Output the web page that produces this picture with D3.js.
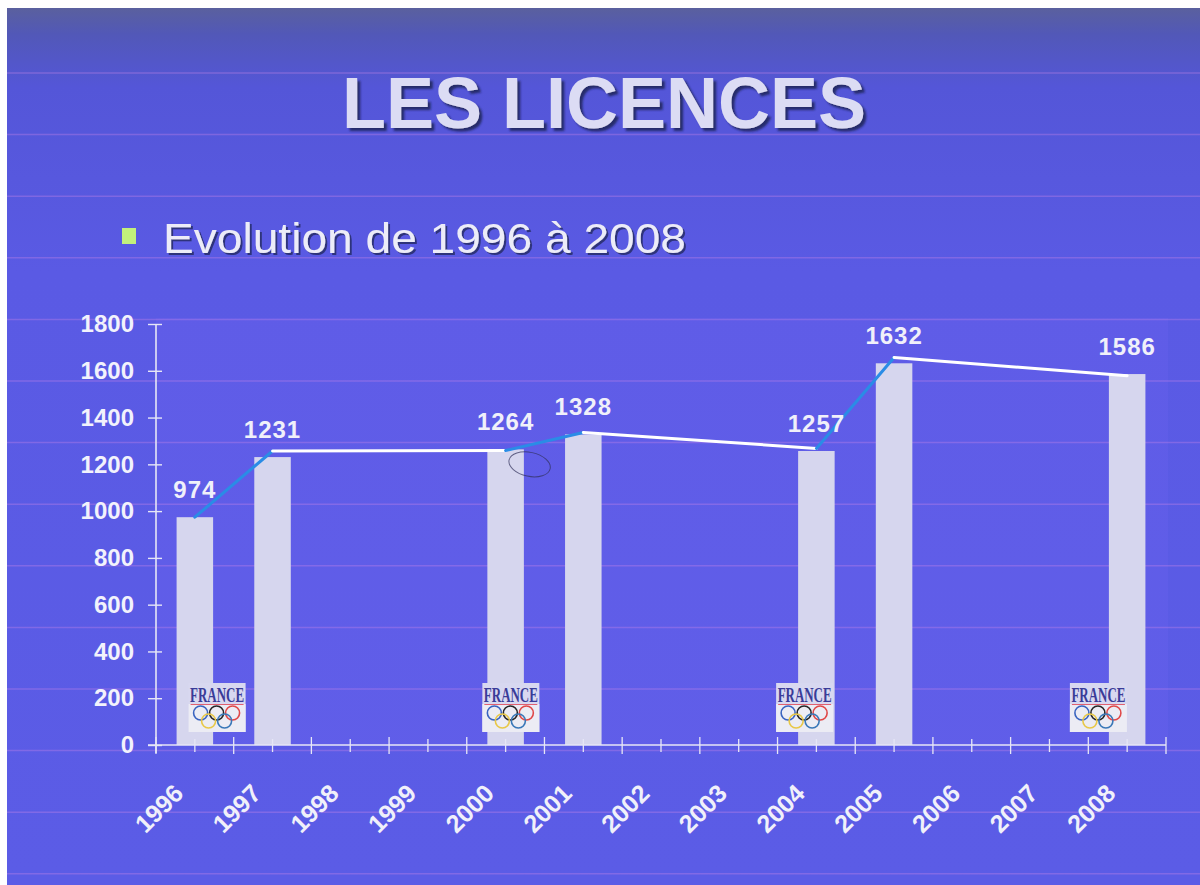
<!DOCTYPE html>
<html>
<head>
<meta charset="utf-8">
<script src="https://cdn.jsdelivr.net/npm/d3@7"></script>
<style>
  html, body { margin: 0; padding: 0; background: #ffffff; }
  svg { display: block; }
</style>
</head>
<body>
<svg id="chart" width="1200" height="885"></svg>
<script>
// ---------- DATA ----------
const years = ["1996","1997","1998","1999","2000","2001","2002","2003","2004","2005","2006","2007","2008"];
const barYears = ["1996","1997","2000","2001","2004","2005","2008"];
const barValues = [974, 1231, 1264, 1328, 1257, 1632, 1586];
const yTicks = [0, 200, 400, 600, 800, 1000, 1200, 1400, 1600, 1800];
// hand-drawn trend overlay
const trendYears = ["1996","1997","2000","2001","2004","2005","2008"];
const trendValues = [974, 1257, 1259, 1336, 1268, 1657, 1579];
const trendColors = ["#2a8ce6", "#ffffff", "#2a8ce6", "#ffffff", "#2a8ce6", "#ffffff"];
const logoYears = ["1996", "2000", "2004", "2008"];
const titleText = "LES LICENCES";
const subtitleText = "Evolution de 1996 à 2008";

// ---------- SETUP ----------
const svg = d3.select("#chart");
const W = 1200, H = 885;
const plot = { left: 156, right: 1166, top: 324, bottom: 745 };

const defs = svg.append("defs");
const g1 = defs.append("linearGradient").attr("id", "bgGrad")
  .attr("x1", 0).attr("y1", 0).attr("x2", 0).attr("y2", 1);
g1.append("stop").attr("offset", "0%").attr("stop-color", "#5a609e");
g1.append("stop").attr("offset", "3%").attr("stop-color", "#5258b8");
g1.append("stop").attr("offset", "9%").attr("stop-color", "#5456d8");
g1.append("stop").attr("offset", "30%").attr("stop-color", "#5a5ae4");
g1.append("stop").attr("offset", "100%").attr("stop-color", "#5b5ce6");

const sh = defs.append("filter").attr("id", "shadow")
  .attr("x", "-5%").attr("y", "-20%").attr("width", "110%").attr("height", "140%");
sh.append("feDropShadow").attr("dx", 3).attr("dy", 3).attr("stdDeviation", 0.8)
  .attr("flood-color", "#1a2050").attr("flood-opacity", 0.8);
const sh2 = defs.append("filter").attr("id", "shadow2")
  .attr("x", "-5%").attr("y", "-20%").attr("width", "110%").attr("height", "140%");
sh2.append("feDropShadow").attr("dx", 2).attr("dy", 2).attr("stdDeviation", 0.6)
  .attr("flood-color", "#1a2050").attr("flood-opacity", 0.7);

// background slide (white scan margins on top and left)
svg.append("rect").attr("x", 0).attr("y", 0).attr("width", W).attr("height", H).attr("fill", "#ffffff");
svg.append("rect").attr("x", 7).attr("y", 8).attr("width", W - 7).attr("height", H - 8).attr("fill", "url(#bgGrad)");

// plot area tint
svg.append("rect")
  .attr("x", plot.left).attr("y", 318)
  .attr("width", plot.right - plot.left + 2).attr("height", plot.bottom - 318)
  .attr("fill", "#6a62ee").attr("opacity", 0.35);

// faint pinkish horizontal stripes of the slide background
svg.append("g").selectAll("line")
  .data(d3.range(73, H, 61.6))
  .join("line")
  .attr("x1", 7).attr("x2", W)
  .attr("y1", d => d).attr("y2", d => d)
  .attr("stroke", "#c884e8").attr("stroke-width", 1.5).attr("opacity", 0.35);

// ---------- TITLE ----------
svg.append("text").attr("x", 604).attr("y", 128)
  .attr("text-anchor", "middle")
  .attr("font-family", "'Liberation Sans', Arial, sans-serif")
  .attr("font-weight", "bold").attr("font-size", 72)
  .attr("filter", "url(#shadow)")
  .attr("fill", "#dcdcf4").text(titleText);

// subtitle with bullet
svg.append("rect").attr("x", 122).attr("y", 228).attr("width", 14).attr("height", 16)
  .attr("fill", "#c2f07c");
svg.append("text").attr("x", 163).attr("y", 253)
  .attr("font-family", "'Liberation Sans', Arial, sans-serif")
  .attr("font-size", 43).attr("textLength", 523).attr("lengthAdjust", "spacingAndGlyphs")
  .attr("filter", "url(#shadow2)")
  .attr("fill", "#ececf8").text(subtitleText);

// ---------- SCALES ----------
const x = d3.scaleBand().domain(years).range([plot.left, plot.right])
  .paddingInner(0.53).paddingOuter(0.265);
const y = d3.scaleLinear().domain([0, 1800]).range([plot.bottom, plot.top]);
const cx = yr => x(yr) + x.bandwidth() / 2;

const axisColor = "#e6e6f6";

// ---------- BARS ----------
const bars = barYears.map((yr, i) => ({ year: yr, value: barValues[i] }));
svg.append("g").selectAll("rect")
  .data(bars).join("rect")
  .attr("x", d => x(d.year))
  .attr("y", d => y(d.value))
  .attr("width", x.bandwidth())
  .attr("height", d => y(0) - y(d.value))
  .attr("fill", "#d6d6ee");

// ---------- LOGOS ----------
const logoX = d3.scaleLinear()
  .domain([+logoYears[0], +logoYears[logoYears.length - 1]])
  .range([x(logoYears[0]) + 12, x(logoYears[logoYears.length - 1]) - 39]);
const logos = svg.append("g").selectAll("g")
  .data(logoYears).join("g")
  .attr("transform", d => `translate(${logoX(+d)},${y(0) - 62})`);
logos.append("rect").attr("width", 57).attr("height", 49).attr("fill", "#d8d8f0");
logos.append("rect").attr("y", 21).attr("width", 57).attr("height", 28).attr("fill", "#ececf4");
logos.append("text").attr("x", 28.5).attr("y", 19)
  .attr("text-anchor", "middle")
  .attr("font-family", "'Liberation Serif', 'Times New Roman', serif")
  .attr("font-weight", "bold").attr("font-size", 21)
  .attr("textLength", 54).attr("lengthAdjust", "spacingAndGlyphs")
  .attr("fill", "#3a3c98").text("FRANCE");
logos.append("line").attr("x1", 2).attr("x2", 55).attr("y1", 21.5).attr("y2", 21.5)
  .attr("stroke", "#e06070").attr("stroke-width", 1);
const rings = [
  { dx: 12, dy: 30, c: "#3a64c0" },
  { dx: 28, dy: 30, c: "#262626" },
  { dx: 44, dy: 30, c: "#e04848" },
  { dx: 20, dy: 38, c: "#e8c848" },
  { dx: 36, dy: 38, c: "#3a78b8" }
];
logos.selectAll("circle").data(rings).join("circle")
  .attr("cx", d => d.dx).attr("cy", d => d.dy).attr("r", 7)
  .attr("fill", "none").attr("stroke", d => d.c).attr("stroke-width", 1.6);

// ---------- AXES ----------
// Y axis
const yAxis = svg.append("g").attr("transform", `translate(${plot.left},0)`)
  .call(d3.axisLeft(y).tickValues(yTicks).tickFormat(d3.format("d")).tickSize(8).tickPadding(14));
yAxis.select(".domain").attr("stroke", axisColor).attr("stroke-width", 1.6)
  .attr("d", `M0,${plot.top}V${plot.bottom + 8}`);
yAxis.selectAll(".tick line").attr("stroke", axisColor).attr("stroke-width", 1.4)
  .attr("x1", -8).attr("x2", 6);
yAxis.selectAll(".tick text")
  .attr("font-family", "'Liberation Sans', Arial, sans-serif")
  .attr("font-weight", "bold").attr("font-size", 24)
  .attr("fill", "#f2f2fc");

// X axis
const xAxis = svg.append("g");
xAxis.append("line")
  .attr("x1", plot.left - 8).attr("x2", plot.right)
  .attr("y1", y(0)).attr("y2", y(0))
  .attr("stroke", axisColor).attr("stroke-width", 1.6);
const half = x.step() / 2;
xAxis.selectAll("line.tk")
  .data(d3.range(0, years.length * 2 + 1))
  .join("line").attr("class", "tk")
  .attr("x1", k => plot.left + k * half).attr("x2", k => plot.left + k * half)
  .attr("y1", k => y(0) - (k % 2 === 0 ? 8 : 6))
  .attr("y2", k => y(0) + (k % 2 === 0 ? 9 : 7))
  .attr("stroke", axisColor).attr("stroke-width", 1.3);
xAxis.selectAll("text")
  .data(years).join("text")
  .attr("transform", d => `translate(${cx(d) - 10},${y(0) + 50}) rotate(-45)`)
  .attr("text-anchor", "end")
  .attr("font-family", "'Liberation Sans', Arial, sans-serif")
  .attr("font-weight", "bold").attr("font-size", 25)
  .attr("fill", "#f0f0fa")
  .text(d => d);

// ---------- TREND OVERLAY ----------
const pts = trendYears.map((yr, i) => [cx(yr), y(trendValues[i])]);
svg.append("g").selectAll("line")
  .data(d3.pairs(pts)).join("line")
  .attr("x1", d => d[0][0]).attr("y1", d => d[0][1])
  .attr("x2", d => d[1][0]).attr("y2", d => d[1][1])
  .attr("stroke", (d, i) => trendColors[i])
  .attr("stroke-width", 3).attr("stroke-linecap", "round");

// pen doodle near 2000
svg.append("ellipse")
  .attr("cx", cx("2000") + 24).attr("cy", y(1264) + 15)
  .attr("rx", 21).attr("ry", 12).attr("transform", `rotate(12, ${cx("2000") + 24}, ${y(1264) + 15})`)
  .attr("fill", "none").attr("stroke", "#30305a").attr("stroke-width", 1).attr("opacity", 0.7);

// ---------- VALUE LABELS ----------
svg.append("g").selectAll("text")
  .data(bars).join("text")
  .attr("x", d => cx(d.year))
  .attr("y", d => y(d.value) - 19)
  .attr("text-anchor", "middle")
  .attr("font-family", "'Liberation Sans', Arial, sans-serif")
  .attr("font-weight", "bold").attr("font-size", 24)
  .attr("letter-spacing", 1)
  .attr("fill", "#f0f0fa")
  .text(d => d.value);
</script>
</body>
</html>
